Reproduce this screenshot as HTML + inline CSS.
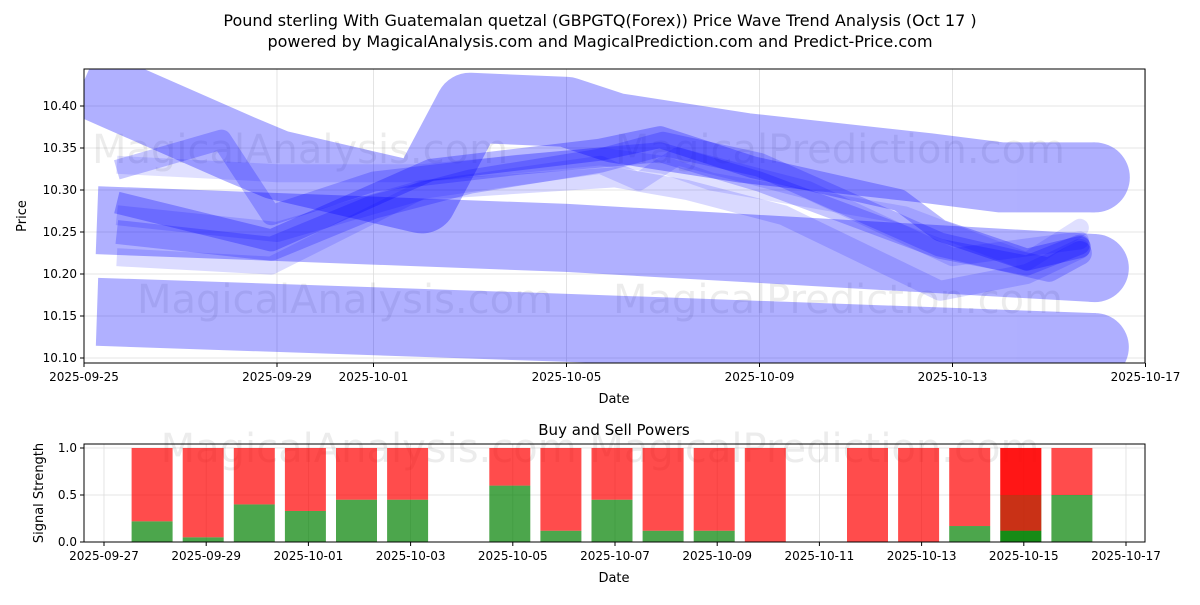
<!DOCTYPE html>
<html><head><meta charset="utf-8"><style>
body{margin:0;background:#fff;font-family:"Liberation Sans","DejaVu Sans",sans-serif}
svg text{font-family:"DejaVu Sans","Liberation Sans",sans-serif}
</style></head><body>
<svg id="c" width="1200" height="600" xmlns="http://www.w3.org/2000/svg">
<defs><clipPath id="clipTop"><rect x="84" y="69" width="1061" height="294"/></clipPath></defs>
<rect width="1200" height="600" fill="#fff"/>
<text x="600" y="26" font-size="16" text-anchor="middle">Pound sterling With Guatemalan quetzal (GBPGTQ(Forex)) Price Wave Trend Analysis (Oct 17 )</text>
<text x="600" y="47" font-size="16" text-anchor="middle">powered by MagicalAnalysis.com and MagicalPrediction.com and Predict-Price.com</text>
<g id="topg"></g><g id="bot"></g>
</svg>
<script>
const NS="http://www.w3.org/2000/svg";
function mk(p,t,a){const e=document.createElementNS(NS,t);for(const k in a)e.setAttribute(k,a[k]);p.appendChild(e);return e;}
// ---- top chart data (day offset from 2025-09-25, price) ----
const bandUpper=[[0,10.43],[3.25,10.348],[4,10.33],[7,10.29],[8,10.398],[10,10.393],[11,10.374],[13.7,10.35],[17.5,10.326],[19,10.315],[20.95,10.315]];
const bandMiddle=[[0.27,10.264],[10,10.243],[20.95,10.207]];
const bandLower=[[0.27,10.155],[10,10.136],[20.95,10.113]];
const wave1=[[0.68,10.285],[3.88,10.24],[7.19,10.324],[10.7,10.348],[11.94,10.363],[13.87,10.327],[16.9,10.288],[17.74,10.252],[19.54,10.217],[20.64,10.232]];
const wave2=[[0.68,10.324],[2.85,10.36],[3.88,10.27],[6,10.31],[9,10.33],[11.94,10.345],[14,10.31],[17.74,10.23],[19.54,10.21],[20.64,10.235]];
const wave3=[[0.68,10.27],[4,10.25],[7,10.30],[11,10.315],[12.5,10.30],[14.5,10.27],[17.74,10.18],[19.54,10.20],[20.64,10.23]];
const wave4=[[0.68,10.33],[4,10.32],[7,10.32],[10.7,10.34],[12,10.33],[13,10.31],[17,10.27],[19.54,10.215],[20.64,10.255]];
const wave5=[[0.68,10.25],[3.88,10.23],[6,10.28],[8,10.31],[10.7,10.335],[12,10.355],[14,10.33],[17.74,10.235],[20,10.205],[20.64,10.225]];
const wave6=[[0.68,10.22],[3.88,10.21],[7,10.30],[10.7,10.33],[11.5,10.31],[12.3,10.34],[15,10.30],[18,10.22],[20.64,10.24]];
const yTicks=[10.10,10.15,10.20,10.25,10.30,10.35,10.40];
const xTickDays=[0,4,6,10,14,18,22];
const xTickLabels=["2025-09-25","2025-09-29","2025-10-01","2025-10-05","2025-10-09","2025-10-13","2025-10-17"];
// ---- bottom chart data (day offset from 2025-09-27) ----
const barDays=[1,2,3,4,5,6,8,9,10,11,12,13,15,16,17,18,19];
const buyVals=[0.22,0.05,0.40,0.33,0.45,0.45,0.60,0.12,0.45,0.12,0.12,0,0,0,0.17,0.50,0.50];
const overlayDays=[18];
const overlayBuy=[0.12];
const bTickDays=[0,2,4,6,8,10,12,14,16,18,20];
const bTickLabels=["2025-09-27","2025-09-29","2025-10-01","2025-10-03","2025-10-05","2025-10-07","2025-10-09","2025-10-11","2025-10-13","2025-10-15","2025-10-17"];
const bYTicks=[0,0.5,1.0];

const X=d=>84+d*48.25, Y=v=>358-(v-10.10)*840;
const topG=document.getElementById('topg');
yTicks.forEach(v=>{const y=Y(v);
 mk(topG,'line',{x1:84,x2:1145,y1:y,y2:y,stroke:'#ddd','stroke-width':0.8});
 mk(topG,'line',{x1:80,x2:84,y1:y,y2:y,stroke:'#000'});
 const t=mk(topG,'text',{x:77,y:y+4,'font-size':12,'text-anchor':'end'});t.textContent=v.toFixed(2);
 
 });
xTickDays.forEach((d,i)=>{const x=X(d);
 mk(topG,'line',{x1:x,x2:x,y1:69,y2:363,stroke:'#ddd','stroke-width':0.8});
 mk(topG,'line',{x1:x,x2:x,y1:363,y2:367,stroke:'#000'});
 const t=mk(topG,'text',{x:x,y:381,'font-size':12,'text-anchor':'middle'});t.textContent=xTickLabels[i];
 
 });
[["MagicalAnalysis.com",300,163],["MagicalPrediction.com",840,163],["MagicalAnalysis.com",345,313],["MagicalPrediction.com",838,313]].forEach(w=>{
 const t=mk(topG,'text',{x:w[1],y:w[2],'font-size':40,'text-anchor':'middle',fill:'#000',opacity:0.07});t.textContent=w[0];
 
 });
const plot=mk(topG,'g',{'clip-path':'url(#clipTop)'});
function line(pts,w,op,name){
 const g=mk(plot,'g',{opacity:op});
 
 
 const d='M'+pts.map(p=>X(p[0]).toFixed(1)+','+Y(p[1]).toFixed(1)).join(' L');
 mk(g,'path',{d:d,fill:'none',stroke:'#0000ff','stroke-width':w,'stroke-linecap':'butt','stroke-linejoin':'round'});
 const e=pts[pts.length-1];
 mk(g,'circle',{cx:X(e[0]),cy:Y(e[1]),r:w/2,fill:'#0000ff'});}
line(bandUpper,70,0.31,'wave-band-upper');line(bandMiddle,68,0.31,'wave-band-middle');line(bandLower,68,0.31,'wave-band-lower');
line(wave3,20,0.15,'wave-3');line(wave4,18,0.12,'wave-4');line(wave6,18,0.14,'wave-6');
line(wave2,20,0.22,'wave-2');line(wave5,24,0.22,'wave-5');line(wave1,22,0.28,'wave-1');
mk(topG,'rect',{x:84,y:69,width:1061,height:294,fill:'none',stroke:'#000','stroke-width':1});
let tt=mk(topG,'text',{x:614,y:403,'font-size':13,'text-anchor':'middle'});tt.textContent='Date';

tt=mk(topG,'text',{x:26,y:216,'font-size':13,'text-anchor':'middle',transform:'rotate(-90 26 216)'});tt.textContent='Price';


const BX=d=>104+d*51.1, BY=v=>542-v*94;
const bot=document.getElementById('bot');
tt=mk(bot,'text',{x:614,y:435,'font-size':15,'text-anchor':'middle'});tt.textContent='Buy and Sell Powers';

bYTicks.forEach(v=>{const y=BY(v);
 mk(bot,'line',{x1:84,x2:1145,y1:y,y2:y,stroke:'#ddd','stroke-width':0.8});
 mk(bot,'line',{x1:80,x2:84,y1:y,y2:y,stroke:'#000'});
 const t=mk(bot,'text',{x:77,y:y+4,'font-size':12,'text-anchor':'end'});t.textContent=v.toFixed(1);
 });
bTickDays.forEach((d,i)=>{const x=BX(d);
 mk(bot,'line',{x1:x,x2:x,y1:444,y2:542,stroke:'#ddd','stroke-width':0.8});
 mk(bot,'line',{x1:x,x2:x,y1:542,y2:546,stroke:'#000'});
 const t=mk(bot,'text',{x:x,y:560,'font-size':12,'text-anchor':'middle'});t.textContent=bTickLabels[i];
 });
const wm=mk(bot,'text',{x:600,y:462,'font-size':40,'text-anchor':'middle',opacity:0.07});wm.textContent='MagicalAnalysis.com     MagicalPrediction.com';

function bar(d,b){const x=BX(d)-23.5;
 const g=mk(bot,'rect',{x:x,y:BY(b),width:41,height:BY(0)-BY(b),fill:'#008000','fill-opacity':0.7});
 
 const s=mk(bot,'rect',{x:x,y:BY(1),width:41,height:BY(b)-BY(1),fill:'#ff0000','fill-opacity':0.7});
 }
barDays.forEach((d,i)=>bar(d,buyVals[i]));
overlayDays.forEach((d,i)=>bar(d,overlayBuy[i]));
mk(bot,'rect',{x:84,y:444,width:1061,height:98,fill:'none',stroke:'#000'});
tt=mk(bot,'text',{x:614,y:582,'font-size':13,'text-anchor':'middle'});tt.textContent='Date';

tt=mk(bot,'text',{x:43,y:493,'font-size':13,'text-anchor':'middle',transform:'rotate(-90 43 493)'});tt.textContent='Signal Strength';

</script>
</body></html>
